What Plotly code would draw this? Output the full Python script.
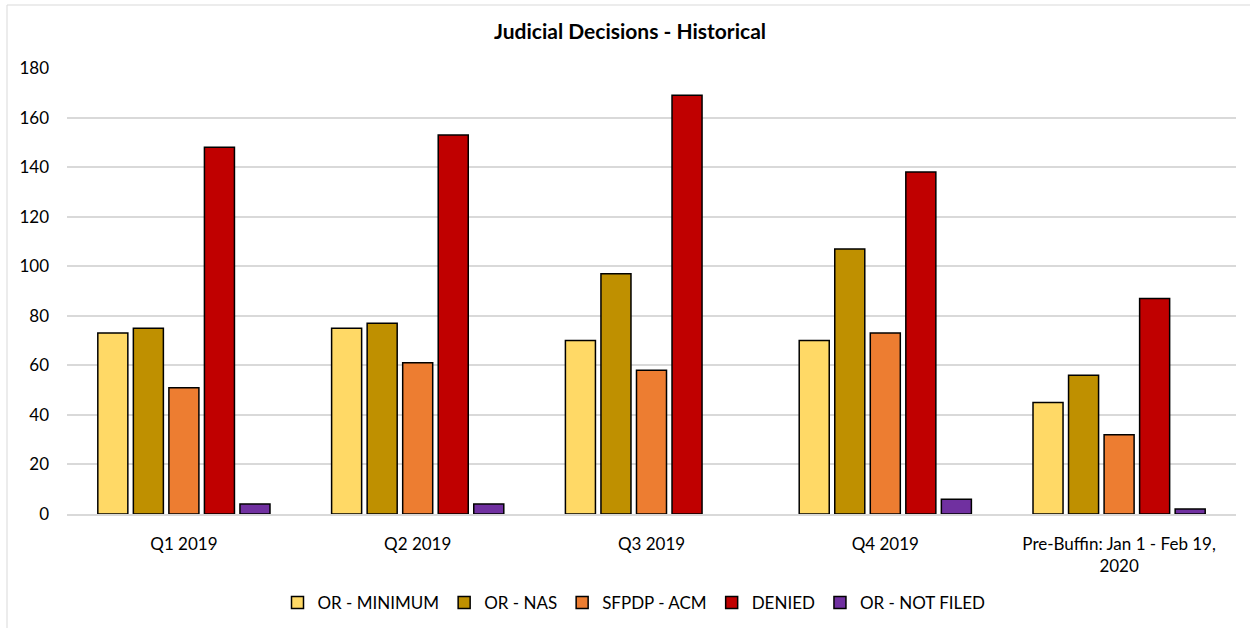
import plotly.graph_objects as go

categories = ["Q1 2019", "Q2 2019", "Q3 2019", "Q4 2019", "Pre-Buffin: Jan 1 - Feb 19,<br>2020"]
series_names = ["OR - MINIMUM", "OR - NAS", "SFPDP - ACM", "DENIED", "OR - NOT FILED"]
or_minimum = [73, 75, 70, 70, 45]
or_nas = [75, 77, 97, 107, 56]
sfpdp_acm = [51, 61, 58, 73, 32]
denied = [148, 153, 169, 138, 87]
or_not_filed = [4, 4, 0, 6, 2]
colors = ["#FFD966", "#BF9000", "#ED7D31", "#C00000", "#7030A0"]
y_ticks = [0, 20, 40, 60, 80, 100, 120, 140, 160, 180]

values = [or_minimum, or_nas, sfpdp_acm, denied, or_not_filed]

W, H = 1250, 628
ml, mr, mt, mb = 67, 14, 68, 114

fig = go.Figure()
for name, vals, col in zip(series_names, values, colors):
    fig.add_trace(go.Bar(
        x=categories, y=vals, name=name,
        marker=dict(color=col,
                    line=dict(color="#000000", width=[1.5 if v > 0 else 0 for v in vals])),
    ))

pw = W - ml - mr
ph = H - mt - mb

def px_to_paper_x(px):
    return (px - ml) / pw

def px_to_paper_y(py):
    return (H - mb - py) / ph

font_family = "Lato, Open Sans, sans-serif"

fig.update_layout(
    width=W, height=H,
    margin=dict(l=ml, r=mr, t=mt, b=mb, autoexpand=False),
    paper_bgcolor="white", plot_bgcolor="white",
    barmode="group", bargap=0.24, bargroupgap=0.155,
    font=dict(family=font_family, color="#000000"),
    title=dict(text="<b>Judicial Decisions - Historical</b>", x=px_to_paper_x(630), xref="paper",
               xanchor="center", y=1 - 32 / H, yanchor="middle",
               font=dict(size=21, family=font_family, color="#000000")),
    xaxis=dict(showgrid=False, showline=True, linecolor="#D9D9D9", linewidth=1.5,
               ticks="", tickfont=dict(size=17, color="#000000"), ticklabelstandoff=14),
    yaxis=dict(range=[0, 180], tickvals=y_ticks, showgrid=True, gridcolor="#D9D9D9",
               gridwidth=1.5, zeroline=False, showline=False, ticks="",
               tickfont=dict(size=17, color="#000000"), ticklabelstandoff=17),
    legend=dict(orientation="h", x=px_to_paper_x(634), xanchor="center",
                y=px_to_paper_y(603), yanchor="middle",
                font=dict(size=17, color="#000000"), itemwidth=30,
                traceorder="normal", bgcolor="rgba(0,0,0,0)"),
    shapes=[dict(type="rect", xref="paper", yref="paper",
                 x0=px_to_paper_x(7), x1=px_to_paper_x(1256),
                 y0=px_to_paper_y(640), y1=px_to_paper_y(5),
                 line=dict(color="#D9D9D9", width=1), fillcolor="rgba(0,0,0,0)", layer="below")],
)

fig.write_html("out.html", config={"displayModeBar": False},
               post_script="document.body.style.margin='0';document.body.style.overflow='hidden';")
